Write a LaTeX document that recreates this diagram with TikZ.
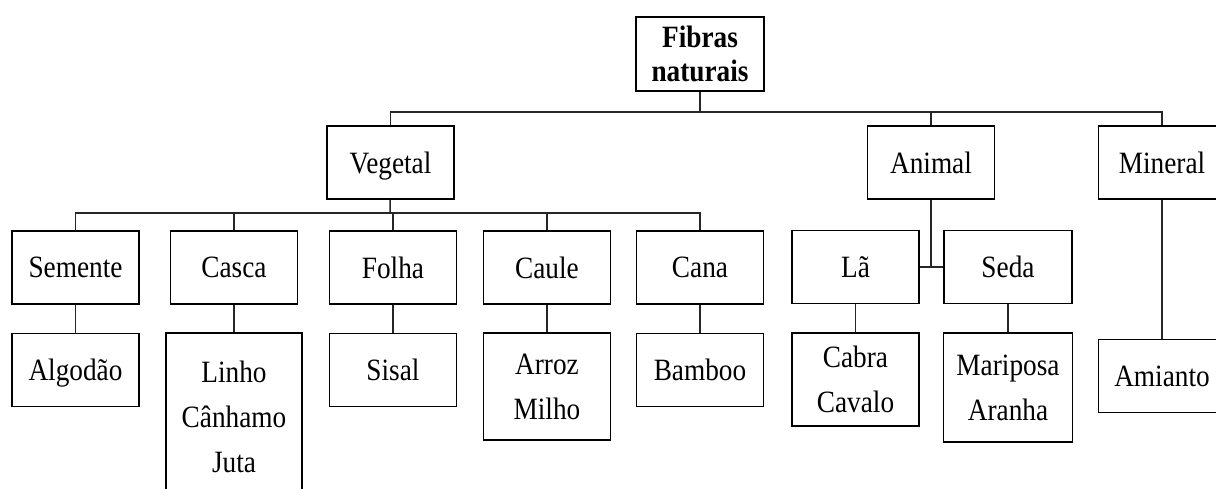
\documentclass[tikz,border=0pt]{standalone}
\usepackage{fontspec}
\setmainfont[FakeStretch=0.88]{Liberation Serif}
\usepackage{tikz}
\usetikzlibrary{positioning,calc}

\begin{document}
\begin{tikzpicture}[x=0.5pt,y=-0.5pt,
  box/.style={draw,line width=0.9pt,minimum width=63.5pt,minimum height=36.5pt,
    inner sep=0pt,align=center,text depth=0pt,font=\fontsize{15.5}{22.5}\selectfont},
  link/.style={line width=0.75pt,draw=black!85}]
  \useasboundingbox (0,0) rectangle (1216,488);
  \clip (0,0) rectangle (1216,488);

  % root and first level
  \node[box,minimum width=64pt,minimum height=37pt,font=\fontsize{15.5}{17}\selectfont\bfseries] (root) at (700,54) {Fibras\\naturais};
  \node[box] (veg) at (390.5,162.5) {Vegetal};
  \node[box] (animal) at (931,162.5) {Animal};
  \node[box] (mineral) at (1162,162.5) {Mineral};

  % vegetal
  \node[box] (semente) at (75.5,267.5) {Semente};
  \node[box] (casca) at (234,267.5) {Casca};
  \node[box] (folha) at (393,267.5) {Folha};
  \node[box] (caule) at (547,267.5) {Caule};
  \node[box] (cana) at (700,267.5) {Cana};
  \node[box] (algodao) at (75.5,370) {Algodão};
  \node[box,minimum width=68pt,minimum height=83.5pt] (linho) at (234,416.5) {Linho\\Cânhamo\\Juta};
  \node[box] (sisal) at (393,370) {Sisal};
  \node[box,minimum height=53.5pt] (arroz) at (547,386.5) {Arroz\\Milho};
  \node[box] (bamboo) at (700,370) {Bamboo};

  % animal and mineral
  \node[box] (la) at (855.5,267) {Lã};
  \node[box,minimum width=64pt] (seda) at (1008,267) {Seda};
  \node[box,minimum height=46.5pt] (cabra) at (855.5,379.5) {Cabra\\Cavalo};
  \node[box,minimum width=64.5pt,minimum height=54.5pt] (mariposa) at (1008,387.5) {Mariposa\\Aranha};
  \node[box] (amianto) at (1162,376) {Amianto};

  \coordinate (top) at (700,112);
  \coordinate (vbus) at (390,213);

  \draw[link] (root) -- (top);
  \draw[link] (top) -| (veg);
  \draw[link] (top) -| (animal);
  \draw[link] (top) -| (mineral);

  \draw[link] (veg) -- (vbus);
  \foreach \n in {semente,casca,folha,caule,cana}
    \draw[link] (vbus) -| (\n);

  \draw[link] (semente) -- (algodao);
  \draw[link] (casca) -- (linho);
  \draw[link] (folha) -- (sisal);
  \draw[link] (caule) -- (arroz);
  \draw[link] (cana) -- (bamboo);

  \draw[link] (animal) -- (animal |- la.east);
  \draw[link] (la) -- (seda);
  \draw[link] (la) -- (cabra);
  \draw[link] (seda) -- (mariposa);
  \draw[link] (mineral) -- (amianto);
\end{tikzpicture}
\end{document}
